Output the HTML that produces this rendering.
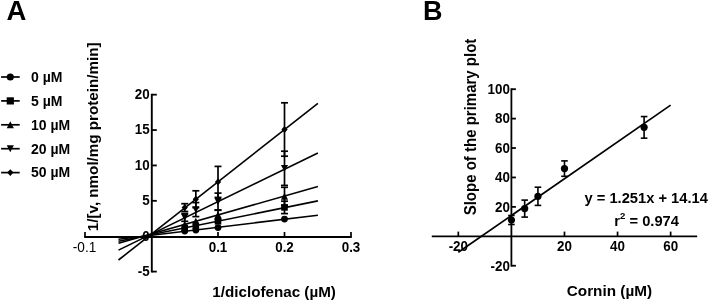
<!DOCTYPE html>
<html><head><meta charset="utf-8"><style>
html,body{margin:0;padding:0;background:#fff;}
svg{display:block;filter:grayscale(1);}
text{font-family:"Liberation Sans", sans-serif;font-weight:bold;fill:#000;stroke:none;}
</style></head><body>
<svg width="709" height="301" viewBox="0 0 709 301">
<g stroke="#000" fill="#000" stroke-linecap="butt">
<text transform="translate(6.60 19.50) scale(1 1.0)" font-size="27.5" text-anchor="start" >A</text>
<line x1="1.10" y1="77.00" x2="19.70" y2="77.00" stroke-width="1.7"/>
<circle cx="10.30" cy="77.00" r="3.55" stroke="none"/>
<text transform="translate(31.00 81.80) scale(1 1.04)" font-size="14" text-anchor="start" >0 µM</text>
<line x1="1.10" y1="100.90" x2="19.70" y2="100.90" stroke-width="1.7"/>
<rect x="6.70" y="97.30" width="7.20" height="7.20" stroke="none"/>
<text transform="translate(31.00 105.70) scale(1 1.04)" font-size="14" text-anchor="start" >5 µM</text>
<line x1="1.10" y1="124.80" x2="19.70" y2="124.80" stroke-width="1.7"/>
<polygon points="10.30,121.30 13.87,128.19 6.73,128.19" stroke="none"/>
<text transform="translate(31.00 129.60) scale(1 1.04)" font-size="14" text-anchor="start" >10 µM</text>
<line x1="1.10" y1="148.70" x2="19.70" y2="148.70" stroke-width="1.7"/>
<polygon points="10.30,152.20 13.87,145.30 6.73,145.30" stroke="none"/>
<text transform="translate(31.00 153.50) scale(1 1.04)" font-size="14" text-anchor="start" >20 µM</text>
<line x1="1.10" y1="172.60" x2="19.70" y2="172.60" stroke-width="1.7"/>
<polygon points="10.30,169.20 13.43,172.60 10.30,176.00 7.17,172.60" stroke="none"/>
<text transform="translate(31.00 177.40) scale(1 1.04)" font-size="14" text-anchor="start" >50 µM</text>
<line x1="84.20" y1="236.90" x2="351.80" y2="236.90" stroke-width="2.0"/>
<line x1="151.80" y1="93.78" x2="151.80" y2="272.48" stroke-width="1.9"/>
<line x1="85.00" y1="236.90" x2="85.00" y2="232.00" stroke-width="1.7"/>
<text transform="translate(84.50 251.60) scale(1 1.04)" font-size="13.6" text-anchor="middle" style="font-weight:normal">-0.1</text>
<line x1="218.00" y1="236.90" x2="218.00" y2="232.00" stroke-width="1.7"/>
<text transform="translate(218.00 251.60) scale(1 1.04)" font-size="13.4" text-anchor="middle" >0.1</text>
<line x1="284.50" y1="236.90" x2="284.50" y2="232.00" stroke-width="1.7"/>
<text transform="translate(284.50 251.60) scale(1 1.04)" font-size="13.4" text-anchor="middle" >0.2</text>
<line x1="351.00" y1="236.90" x2="351.00" y2="232.00" stroke-width="1.7"/>
<text transform="translate(351.00 251.60) scale(1 1.04)" font-size="13.4" text-anchor="middle" >0.3</text>
<line x1="151.80" y1="94.68" x2="156.80" y2="94.68" stroke-width="1.8"/>
<text transform="translate(149.70 98.98) scale(1 1.04)" font-size="13.4" text-anchor="end" >20</text>
<line x1="151.80" y1="130.06" x2="156.80" y2="130.06" stroke-width="1.8"/>
<text transform="translate(149.70 134.36) scale(1 1.04)" font-size="13.4" text-anchor="end" >15</text>
<line x1="151.80" y1="165.44" x2="156.80" y2="165.44" stroke-width="1.8"/>
<text transform="translate(149.70 169.74) scale(1 1.04)" font-size="13.4" text-anchor="end" >10</text>
<line x1="151.80" y1="200.82" x2="156.80" y2="200.82" stroke-width="1.8"/>
<text transform="translate(149.70 205.12) scale(1 1.04)" font-size="13.4" text-anchor="end" >5</text>
<line x1="151.80" y1="271.58" x2="156.80" y2="271.58" stroke-width="1.8"/>
<text transform="translate(149.70 275.88) scale(1 1.04)" font-size="13.4" text-anchor="end" >-5</text>
<text transform="translate(149.70 240.50) scale(1 1.04)" font-size="13.4" text-anchor="end" >0</text>
<line x1="118.50" y1="239.30" x2="317.90" y2="215.20" stroke-width="1.6"/>
<line x1="118.50" y1="241.30" x2="317.90" y2="200.90" stroke-width="1.6"/>
<line x1="118.50" y1="243.30" x2="317.90" y2="186.60" stroke-width="1.6"/>
<line x1="118.50" y1="250.10" x2="317.90" y2="153.00" stroke-width="1.6"/>
<line x1="118.50" y1="260.00" x2="317.90" y2="103.30" stroke-width="1.6"/>
<line x1="184.75" y1="203.70" x2="184.75" y2="211.50" stroke-width="1.7"/>
<line x1="181.25" y1="203.70" x2="188.25" y2="203.70" stroke-width="1.7"/>
<line x1="181.25" y1="211.50" x2="188.25" y2="211.50" stroke-width="1.7"/>
<polygon points="184.75,204.20 187.88,207.60 184.75,211.00 181.62,207.60" stroke="none"/>
<line x1="195.83" y1="190.80" x2="195.83" y2="207.60" stroke-width="1.7"/>
<line x1="192.33" y1="190.80" x2="199.33" y2="190.80" stroke-width="1.7"/>
<line x1="192.33" y1="207.60" x2="199.33" y2="207.60" stroke-width="1.7"/>
<polygon points="195.83,195.80 198.96,199.20 195.83,202.60 192.71,199.20" stroke="none"/>
<line x1="218.00" y1="166.40" x2="218.00" y2="197.40" stroke-width="1.7"/>
<line x1="214.50" y1="166.40" x2="221.50" y2="166.40" stroke-width="1.7"/>
<line x1="214.50" y1="197.40" x2="221.50" y2="197.40" stroke-width="1.7"/>
<polygon points="218.00,178.50 221.13,181.90 218.00,185.30 214.87,181.90" stroke="none"/>
<line x1="284.50" y1="102.80" x2="284.50" y2="156.20" stroke-width="1.7"/>
<line x1="281.00" y1="102.80" x2="288.00" y2="102.80" stroke-width="1.7"/>
<line x1="281.00" y1="156.20" x2="288.00" y2="156.20" stroke-width="1.7"/>
<polygon points="284.50,126.10 287.63,129.50 284.50,132.90 281.37,129.50" stroke="none"/>
<line x1="184.75" y1="213.50" x2="184.75" y2="221.30" stroke-width="1.7"/>
<line x1="181.25" y1="213.50" x2="188.25" y2="213.50" stroke-width="1.7"/>
<line x1="181.25" y1="221.30" x2="188.25" y2="221.30" stroke-width="1.7"/>
<polygon points="184.75,220.90 188.32,214.00 181.18,214.00" stroke="none"/>
<line x1="195.83" y1="202.60" x2="195.83" y2="216.60" stroke-width="1.7"/>
<line x1="192.33" y1="202.60" x2="199.33" y2="202.60" stroke-width="1.7"/>
<line x1="192.33" y1="216.60" x2="199.33" y2="216.60" stroke-width="1.7"/>
<polygon points="195.83,213.10 199.40,206.20 192.26,206.20" stroke="none"/>
<line x1="218.00" y1="193.10" x2="218.00" y2="209.90" stroke-width="1.7"/>
<line x1="214.50" y1="193.10" x2="221.50" y2="193.10" stroke-width="1.7"/>
<line x1="214.50" y1="209.90" x2="221.50" y2="209.90" stroke-width="1.7"/>
<polygon points="218.00,205.00 221.57,198.10 214.43,198.10" stroke="none"/>
<line x1="284.50" y1="151.20" x2="284.50" y2="185.40" stroke-width="1.7"/>
<line x1="281.00" y1="151.20" x2="288.00" y2="151.20" stroke-width="1.7"/>
<line x1="281.00" y1="185.40" x2="288.00" y2="185.40" stroke-width="1.7"/>
<polygon points="284.50,171.80 288.07,164.91 280.93,164.91" stroke="none"/>
<polygon points="184.75,220.80 188.32,227.70 181.18,227.70" stroke="none"/>
<polygon points="195.83,217.70 199.40,224.59 192.26,224.59" stroke="none"/>
<line x1="218.00" y1="210.30" x2="218.00" y2="219.30" stroke-width="1.7"/>
<line x1="214.50" y1="210.30" x2="221.50" y2="210.30" stroke-width="1.7"/>
<line x1="214.50" y1="219.30" x2="221.50" y2="219.30" stroke-width="1.7"/>
<polygon points="218.00,211.30 221.57,218.20 214.43,218.20" stroke="none"/>
<line x1="284.50" y1="187.30" x2="284.50" y2="205.30" stroke-width="1.7"/>
<line x1="281.00" y1="187.30" x2="288.00" y2="187.30" stroke-width="1.7"/>
<line x1="281.00" y1="205.30" x2="288.00" y2="205.30" stroke-width="1.7"/>
<polygon points="284.50,192.80 288.07,199.70 280.93,199.70" stroke="none"/>
<rect x="181.45" y="224.70" width="6.60" height="6.60" stroke="none"/>
<rect x="192.53" y="222.50" width="6.60" height="6.60" stroke="none"/>
<rect x="214.70" y="218.00" width="6.60" height="6.60" stroke="none"/>
<line x1="284.50" y1="201.20" x2="284.50" y2="213.60" stroke-width="1.7"/>
<line x1="281.00" y1="201.20" x2="288.00" y2="201.20" stroke-width="1.7"/>
<line x1="281.00" y1="213.60" x2="288.00" y2="213.60" stroke-width="1.7"/>
<rect x="281.20" y="204.10" width="6.60" height="6.60" stroke="none"/>
<circle cx="184.75" cy="231.00" r="3.40" stroke="none"/>
<circle cx="195.83" cy="230.00" r="3.40" stroke="none"/>
<circle cx="218.00" cy="227.60" r="3.40" stroke="none"/>
<circle cx="284.50" cy="219.10" r="3.40" stroke="none"/>
<text transform="translate(274.10 296.70) scale(1 1.0)" font-size="15.2" text-anchor="middle" >1/diclofenac (µM)</text>
<text x="0" y="0" font-size="15.2" text-anchor="middle" transform="translate(98.0 136.8) rotate(-90)">1/[v, nmol/mg protein/min]</text>
<text transform="translate(422.90 19.70) scale(1 1.0)" font-size="27" text-anchor="start" >B</text>
<line x1="431.78" y1="236.40" x2="697.18" y2="236.40" stroke-width="1.8"/>
<line x1="511.40" y1="88.30" x2="511.40" y2="266.62" stroke-width="1.8"/>
<line x1="458.32" y1="236.40" x2="458.32" y2="231.60" stroke-width="1.7"/>
<text transform="translate(458.32 251.20) scale(1 1.04)" font-size="13.4" text-anchor="middle" >-20</text>
<line x1="564.48" y1="236.40" x2="564.48" y2="231.60" stroke-width="1.7"/>
<text transform="translate(564.48 251.20) scale(1 1.04)" font-size="13.4" text-anchor="middle" >20</text>
<line x1="617.56" y1="236.40" x2="617.56" y2="231.60" stroke-width="1.7"/>
<text transform="translate(617.56 251.20) scale(1 1.04)" font-size="13.4" text-anchor="middle" >40</text>
<line x1="670.64" y1="236.40" x2="670.64" y2="231.60" stroke-width="1.7"/>
<text transform="translate(670.64 251.20) scale(1 1.04)" font-size="13.4" text-anchor="middle" >60</text>
<line x1="511.40" y1="89.20" x2="515.90" y2="89.20" stroke-width="1.8"/>
<text transform="translate(509.90 94.00) scale(1 1.04)" font-size="13.4" text-anchor="end" >100</text>
<line x1="511.40" y1="118.62" x2="515.90" y2="118.62" stroke-width="1.8"/>
<text transform="translate(509.90 123.42) scale(1 1.04)" font-size="13.4" text-anchor="end" >80</text>
<line x1="511.40" y1="148.04" x2="515.90" y2="148.04" stroke-width="1.8"/>
<text transform="translate(509.90 152.84) scale(1 1.04)" font-size="13.4" text-anchor="end" >60</text>
<line x1="511.40" y1="177.46" x2="515.90" y2="177.46" stroke-width="1.8"/>
<text transform="translate(509.90 182.26) scale(1 1.04)" font-size="13.4" text-anchor="end" >40</text>
<line x1="511.40" y1="206.88" x2="515.90" y2="206.88" stroke-width="1.8"/>
<text transform="translate(509.90 211.68) scale(1 1.04)" font-size="13.4" text-anchor="end" >20</text>
<line x1="511.40" y1="265.72" x2="515.90" y2="265.72" stroke-width="1.8"/>
<text transform="translate(509.90 270.52) scale(1 1.04)" font-size="13.4" text-anchor="end" >-20</text>
<line x1="458.32" y1="252.30" x2="670.64" y2="105.09" stroke-width="1.7"/>
<line x1="511.40" y1="215.50" x2="511.40" y2="224.50" stroke-width="1.6"/>
<line x1="508.10" y1="215.50" x2="514.70" y2="215.50" stroke-width="1.6"/>
<line x1="508.10" y1="224.50" x2="514.70" y2="224.50" stroke-width="1.6"/>
<circle cx="511.40" cy="220.00" r="3.60" stroke="none"/>
<line x1="524.67" y1="200.10" x2="524.67" y2="217.10" stroke-width="1.6"/>
<line x1="521.37" y1="200.10" x2="527.97" y2="200.10" stroke-width="1.6"/>
<line x1="521.37" y1="217.10" x2="527.97" y2="217.10" stroke-width="1.6"/>
<circle cx="524.67" cy="208.60" r="3.60" stroke="none"/>
<line x1="537.94" y1="187.20" x2="537.94" y2="205.40" stroke-width="1.6"/>
<line x1="534.64" y1="187.20" x2="541.24" y2="187.20" stroke-width="1.6"/>
<line x1="534.64" y1="205.40" x2="541.24" y2="205.40" stroke-width="1.6"/>
<circle cx="537.94" cy="196.30" r="3.60" stroke="none"/>
<line x1="564.48" y1="160.90" x2="564.48" y2="176.30" stroke-width="1.6"/>
<line x1="561.18" y1="160.90" x2="567.78" y2="160.90" stroke-width="1.6"/>
<line x1="561.18" y1="176.30" x2="567.78" y2="176.30" stroke-width="1.6"/>
<circle cx="564.48" cy="168.60" r="3.60" stroke="none"/>
<line x1="644.10" y1="116.55" x2="644.10" y2="138.15" stroke-width="1.6"/>
<line x1="640.80" y1="116.55" x2="647.40" y2="116.55" stroke-width="1.6"/>
<line x1="640.80" y1="138.15" x2="647.40" y2="138.15" stroke-width="1.6"/>
<circle cx="644.10" cy="127.35" r="3.60" stroke="none"/>
<text transform="translate(646.20 203.40) scale(1 1.04)" font-size="14.7" text-anchor="middle" >y = 1.251x + 14.14</text>
<text transform="translate(646.60 225.60) scale(1 1.04)" font-size="14.7" text-anchor="middle" >r<tspan font-size="9.6" dy="-6.4">2</tspan><tspan dy="6.4"> = 0.974</tspan></text>
<text transform="translate(609.40 295.50) scale(1 1.0)" font-size="15.3" text-anchor="middle" >Cornin (µM)</text>
<text x="0" y="0" font-size="15" text-anchor="middle" transform="translate(475.6 127.0) rotate(-90) scale(1 1.04)">Slope of the primary plot</text>
</g>
</svg>
</body></html>
